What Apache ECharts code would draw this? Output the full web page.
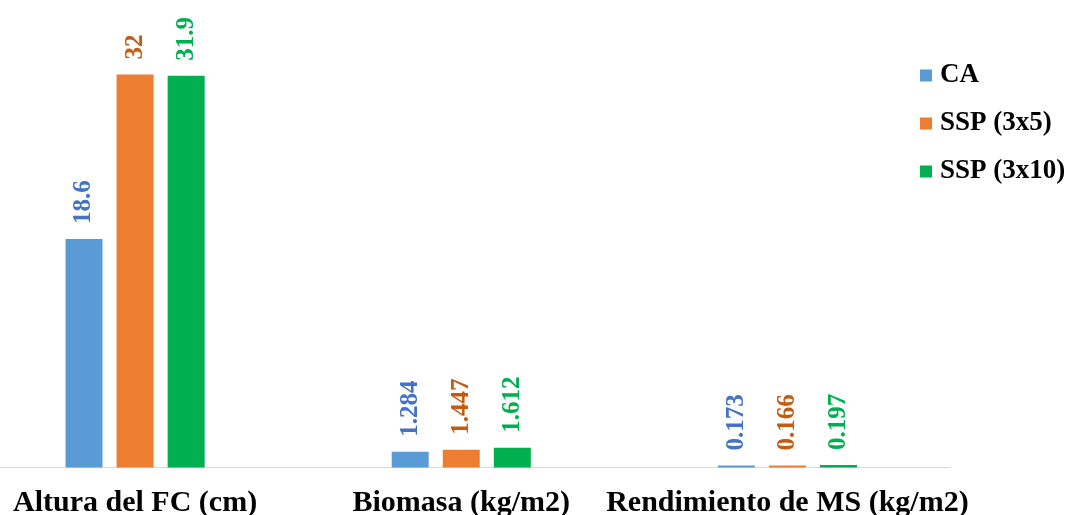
<!DOCTYPE html>
<html>
<head>
<meta charset="utf-8">
<script src="https://cdn.jsdelivr.net/npm/echarts@6/dist/echarts.min.js"></script>
<style>
  html, body { margin: 0; padding: 0; background: #ffffff; overflow: hidden; }
  #wrap { width: 1084px; height: 515px; overflow: hidden; position: relative; }
  /* plot area starts a little left of the visible frame */
  #chart { width: 1112px; height: 515px; position: absolute; left: -28px; top: 0; }
</style>
</head>
<body>
<div id="wrap"><div id="chart"></div></div>
<script>
// Categories and measured values per treatment
const categories = ['Altura del FC (cm)', 'Biomasa (kg/m2)', 'Rendimiento de MS (kg/m2)'];
const seriesNames = ['CA', 'SSP (3x5)', 'SSP (3x10)'];
const valuesCA = [18.6, 1.284, 0.173];
const valuesSSP3x5 = [32, 1.447, 0.166];
const valuesSSP3x10 = [31.9, 1.612, 0.197];

const barColors = ['#5B9BD5', '#ED7D31', '#00B050'];
const labelColors = ['#4472C4', '#C55A11', '#00B050'];
const FONT = '"Liberation Serif", "Times New Roman", serif';

const seriesValues = [valuesCA, valuesSSP3x5, valuesSSP3x10];

const chart = echarts.init(document.getElementById('chart'), null, { renderer: 'canvas' });

chart.setOption({
  animation: false,
  backgroundColor: '#ffffff',
  grid: {
    left: 0, right: 133.5, top: 37.7, bottom: 47.5,
    containLabel: false,
    outerBoundsMode: 'none'
  },
  legend: {
    orient: 'vertical',
    left: 943,
    top: 57,
    icon: 'rect',
    itemWidth: 12,
    itemHeight: 12,
    itemGap: 21,
    textStyle: { fontFamily: FONT, fontWeight: 'bold', fontSize: 27, color: '#000000', padding: [0, 0, 0, 3] },
    data: seriesNames
  },
  xAxis: {
    type: 'category',
    data: categories,
    axisLine: { show: true, lineStyle: { color: '#D9D9D9', width: 1 } },
    axisTick: { show: false },
    axisLabel: {
      interval: 0,
      margin: 21,
      color: '#000000',
      fontFamily: FONT,
      fontWeight: 'bold',
      fontSize: 30
    }
  },
  yAxis: {
    type: 'value',
    min: 0,
    max: 35,
    show: false,
    splitLine: { show: false }
  },
  series: seriesNames.map((name, i) => ({
    name: name,
    type: 'bar',
    data: seriesValues[i],
    barWidth: 37,
    barGap: '38%',
    itemStyle: { color: barColors[i] },
    label: {
      show: true,
      position: 'top',
      rotate: 90,
      align: 'left',
      verticalAlign: 'middle',
      distance: 15,
      color: labelColors[i],
      fontFamily: FONT,
      fontWeight: 'bold',
      fontSize: 25
    }
  }))
});
</script>
</body>
</html>
